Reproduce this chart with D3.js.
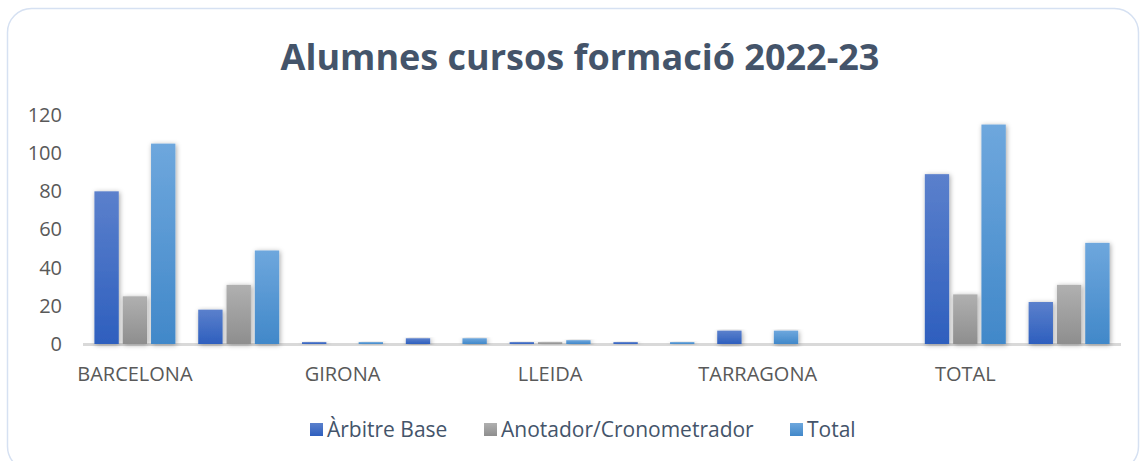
<!DOCTYPE html>
<html>
<head>
<meta charset="utf-8">
<script src="https://cdn.jsdelivr.net/npm/d3@7"></script>
<style>
  body { margin: 0; background: #fff; }
  text { font-family: "Open Sans", "Noto Sans", sans-serif; }
</style>
</head>
<body>
<div id="chart"></div>
<script>
// categories (only every other label is shown on the axis, like the original)
const categories = ["BARCELONA", "", "GIRONA", "", "LLEIDA", "", "TARRAGONA", "", "TOTAL", ""];
const seriesNames = ["Àrbitre Base", "Anotador/Cronometrador", "Total"];
const arbitre = [80, 18, 1, 3, 1, 1, 7, 0, 89, 22];
const anotador = [25, 31, 0, 0, 1, 0, 0, 0, 26, 31];
const total = [105, 49, 1, 3, 2, 1, 7, 0, 115, 53];
const yTicks = [0, 20, 40, 60, 80, 100, 120];

var width = 1145, height = 461;

var svg = d3.select("#chart")
  .append("svg")
  .attr("width", width)
  .attr("height", height);

// gradients for bars
var defs = svg.append("defs");
var gradColors = [["#5b80cc", "#2e5fbe"], ["#b0b0b0", "#8e8e8e"], ["#6ea7dd", "#4188c9"]];
gradColors.forEach(function(c, i) {
  var g = defs.append("linearGradient")
    .attr("id", "grad" + i)
    .attr("x1", 0).attr("y1", 0).attr("x2", 0).attr("y2", 1);
  g.append("stop").attr("offset", "0%").attr("stop-color", c[0]);
  g.append("stop").attr("offset", "100%").attr("stop-color", c[1]);
});
var shadow = defs.append("filter").attr("id", "shadow")
  .attr("x", "-30%").attr("y", "-10%").attr("width", "160%").attr("height", "125%");
shadow.append("feDropShadow")
  .attr("dx", 1).attr("dy", 1).attr("stdDeviation", 2.5)
  .attr("flood-color", "#000").attr("flood-opacity", 0.35);

// outer frame
svg.append("rect")
  .attr("x", 7.5).attr("y", 8.5)
  .attr("width", 1131).attr("height", 462)
  .attr("rx", 24)
  .attr("fill", "#fff")
  .attr("stroke", "#d6e1f2")
  .attr("stroke-width", 1.5);

// title
svg.append("text")
  .attr("x", 580).attr("y", 70)
  .attr("text-anchor", "middle")
  .attr("font-size", 36)
  .attr("font-weight", "bold")
  .attr("fill", "#44546a")
  .text("Alumnes cursos formació 2022-23");

// scales
var xScale = d3.scaleBand()
  .domain(d3.range(categories.length))
  .range([83, 1121])
  .paddingInner(0.22)
  .paddingOuter(0.11);

var xSub = d3.scaleBand()
  .domain(d3.range(seriesNames.length))
  .range([0, xScale.bandwidth()])
  .paddingInner(0.14);

var yScale = d3.scaleLinear()
  .domain([0, 120])
  .range([344, 115]);

// y axis labels
svg.append("g")
  .attr("transform", "translate(62,0)")
  .call(d3.axisLeft(yScale).tickValues(yTicks).tickSize(0).tickPadding(0))
  .call(function(g) { g.select(".domain").remove(); })
  .selectAll("text")
    .attr("font-size", 20)
    .attr("fill", "#595959")
    .attr("font-family", "\"Open Sans\", sans-serif");

// x axis line
svg.append("line")
  .attr("x1", 83).attr("x2", 1121)
  .attr("y1", 344.5).attr("y2", 344.5)
  .attr("stroke", "#d9d9d9")
  .attr("stroke-width", 3);

// bars
var seriesData = [arbitre, anotador, total];
seriesData.forEach(function(vals, s) {
  svg.append("g")
    .selectAll("rect")
    .data(vals)
    .enter().append("rect")
      .attr("x", function(d, i) { return xScale(i) + xSub(s); })
      .attr("y", function(d) { return yScale(d); })
      .attr("width", xSub.bandwidth())
      .attr("height", function(d) { return yScale(0) - yScale(d); })
      .attr("fill", "url(#grad" + s + ")")
      .attr("filter", "url(#shadow)");
});

// x labels
svg.append("g")
  .attr("transform", "translate(0,344)")
  .call(d3.axisBottom(xScale).tickFormat(function(i) { return categories[i]; }).tickSize(0).tickPadding(23))
  .call(function(g) { g.select(".domain").remove(); })
  .selectAll("text")
    .attr("font-size", 20)
    .attr("fill", "#595959")
    .attr("font-family", "\"Open Sans\", sans-serif");

// legend
var legendX = [310, 484, 790];
var legend = svg.append("g");
seriesNames.forEach(function(name, i) {
  legend.append("rect")
    .attr("x", legendX[i]).attr("y", 423)
    .attr("width", 13).attr("height", 13)
    .attr("fill", "url(#grad" + i + ")");
  legend.append("text")
    .attr("x", legendX[i] + 17).attr("y", 437)
    .attr("font-size", 21)
    .attr("fill", "#44546a")
    .text(name);
});
</script>
</body>
</html>
